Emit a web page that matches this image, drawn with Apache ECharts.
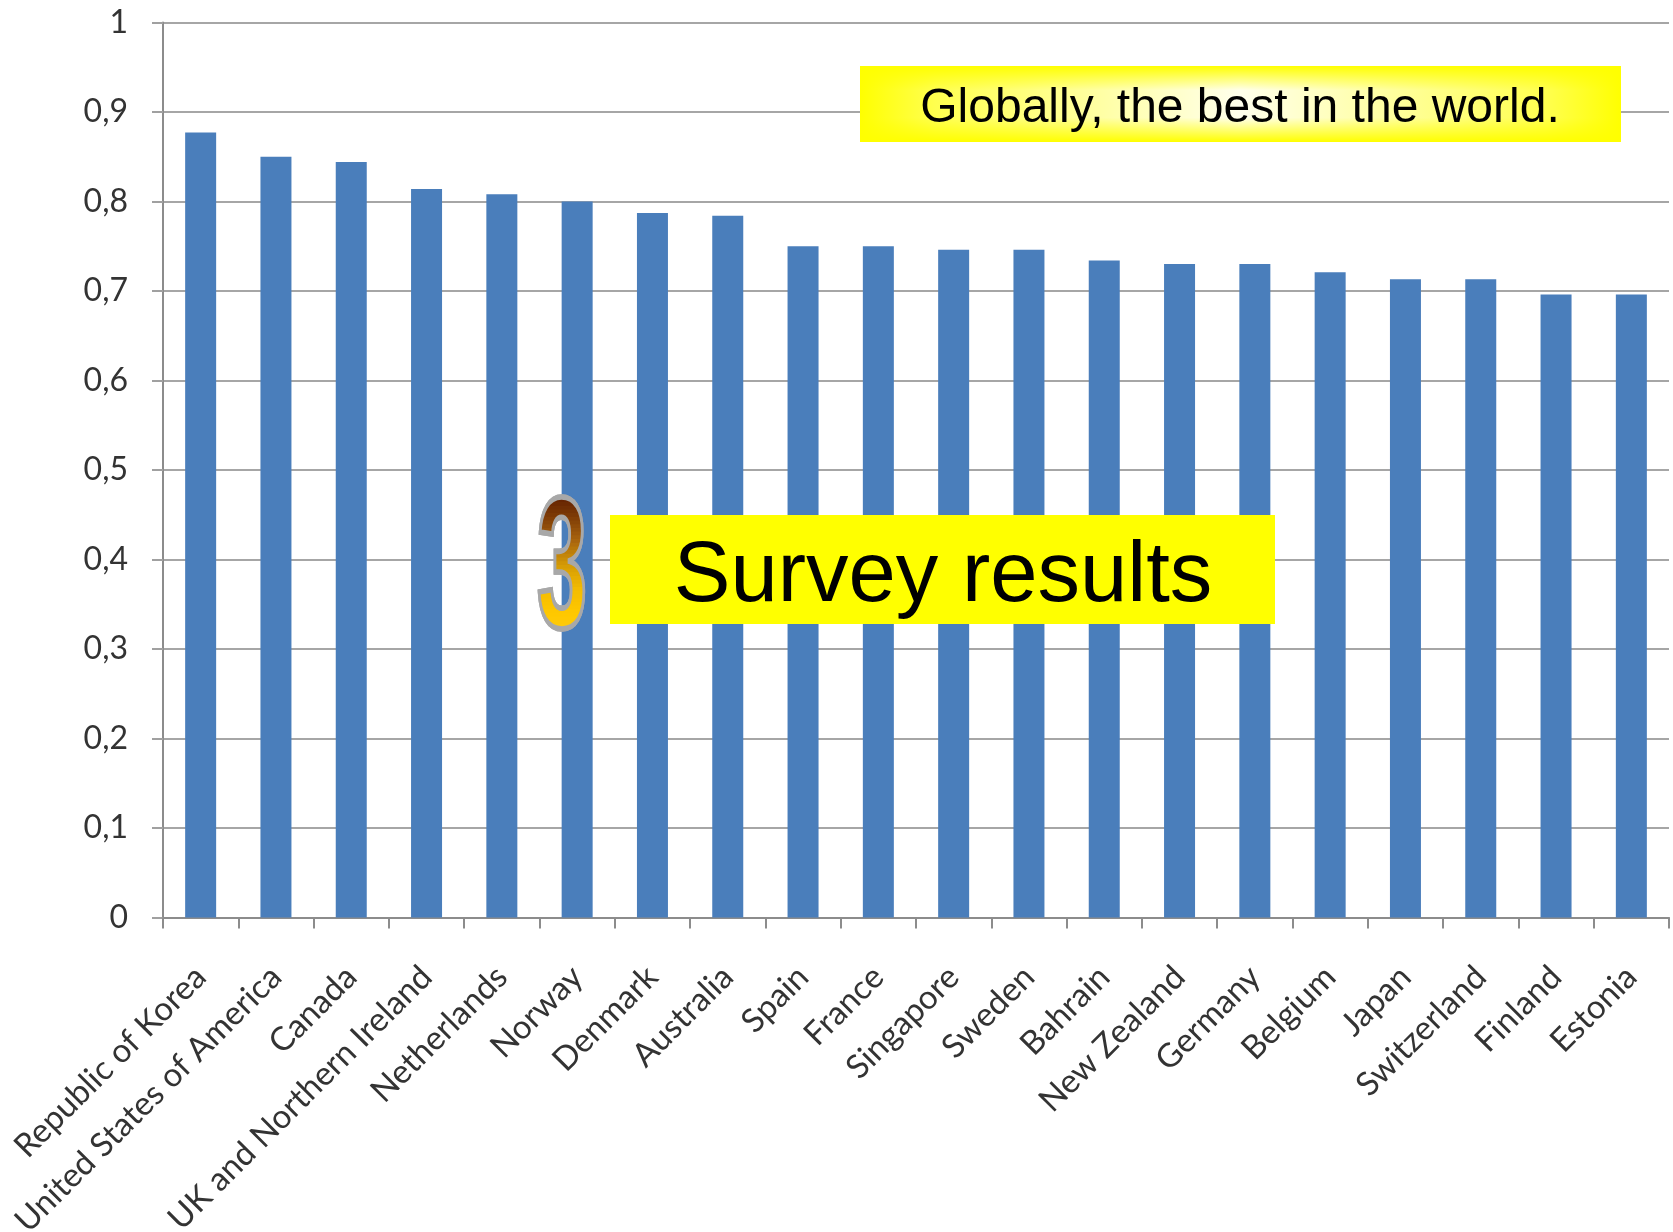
<!DOCTYPE html>
<html><head><meta charset="utf-8">
<script src="https://cdn.jsdelivr.net/npm/echarts@6/dist/echarts.min.js"></script>
<style>html,body{margin:0;padding:0;background:#fff}#c{width:1673px;height:1232px}</style>
</head><body><div id="c"></div>
<script>
const categories = ['Republic of Korea','United States of America','Canada','UK and Northern Ireland','Netherlands','Norway','Denmark','Australia','Spain','France','Singapore','Sweden','Bahrain','New Zealand','Germany','Belgium','Japan','Switzerland','Finland','Estonia'];
const values = [0.877,0.850,0.844,0.814,0.808,0.800,0.787,0.784,0.750,0.750,0.746,0.746,0.734,0.730,0.730,0.721,0.713,0.713,0.696,0.696];
const headline = 'Globally, the best in the world.';
const sectionTitle = 'Survey results';
const sectionNumber = '3';

const chart = echarts.init(document.getElementById('c'), null, {renderer: 'canvas'});
const labelFont = 'Lato';
chart.setOption({
  backgroundColor: '#ffffff',
  animation: false,
  grid: {left: 163, right: 4, top: 22.4, bottom: 314.4, outerBoundsMode: 'none'},
  xAxis: {
    type: 'category', data: categories,
    axisLine: {show: true, lineStyle: {color: '#8c8c8c', width: 2}},
    axisTick: {show: true, length: 11, alignWithLabel: false, lineStyle: {color: '#8c8c8c', width: 2}},
    axisLabel: {interval: 0, rotate: 45, margin: 54, fontFamily: labelFont, fontSize: 33, color: '#333333'}
  },
  yAxis: {
    type: 'value', min: 0, max: 1, interval: 0.1,
    axisLine: {show: true, lineStyle: {color: '#8c8c8c', width: 2}},
    axisTick: {show: true, length: 11, lineStyle: {color: '#a0a0a0', width: 2}},
    splitLine: {show: true, lineStyle: {color: '#a6a6a6', width: 2}},
    axisLabel: {margin: 35, fontFamily: labelFont, fontSize: 32, color: '#333333',
      formatter: v => String(+v.toFixed(1)).replace('.', ',')}
  },
  series: [{
    type: 'bar', data: values, barWidth: 31,
    itemStyle: {color: '#4a7ebb'}
  }],
  graphic: [
    {type: 'rect', z: 100, shape: {x: 860, y: 66, width: 761, height: 76},
     style: {fill: {type: 'linear', x: 0, y: 0, x2: 1, y2: 0,
       colorStops: [{offset: 0, color: '#ffff00'}, {offset: 0.1, color: '#ffff50'}, {offset: 0.5, color: '#ffffec'}, {offset: 0.9, color: '#ffff50'}, {offset: 1, color: '#ffff00'}]}}},
    {type: 'rect', z: 100, shape: {x: 860, y: 66, width: 761, height: 76},
     style: {fill: {type: 'linear', x: 0, y: 0, x2: 0, y2: 1,
       colorStops: [{offset: 0, color: 'rgba(255,255,0,1)'}, {offset: 0.32, color: 'rgba(255,255,0,0)'}, {offset: 0.68, color: 'rgba(255,255,0,0)'}, {offset: 1, color: 'rgba(255,255,0,1)'}]}}},
    {type: 'text', z: 101, x: 1240, y: 109,
     style: {text: headline, font: '48px "Liberation Sans"', fill: '#000', textAlign: 'center', textVerticalAlign: 'middle'}},
    {type: 'rect', z: 100, shape: {x: 610, y: 515, width: 665, height: 109}, style: {fill: '#ffff00'}},
    {type: 'text', z: 101, x: 943, y: 578,
     style: {text: sectionTitle, font: '85px "Liberation Sans"', fill: '#000', textAlign: 'center', textVerticalAlign: 'middle'}}
  ]
});

// WordArt-style section number: gradient built from clipped horizontal bands
const zr = chart.getZr();
const G = echarts.graphic;
const numPos = {x: 562, y: 576, scaleX: 0.9, scaleY: 1.85};
const numFont = 'bold 100px "Liberation Sans"';
const numBase = {text: sectionNumber, font: numFont, align: 'center', verticalAlign: 'middle'};
zr.add(new G.Text(Object.assign({z: 200, z2: 0}, numPos, {style: Object.assign({}, numBase, {
  fill: '#ffc800', stroke: '#a8a8a8', lineWidth: 3,
  shadowColor: 'rgba(105,75,40,0.85)', shadowBlur: 0, shadowOffsetX: 6, shadowOffsetY: 7})})));
const gradColors = ['#5a1800', '#7c3a06', '#a8640e', '#d49a06', '#f4bc00', '#ffc800', '#ffcc10'];
const bandTop = -46, bandBottom = 34, nBands = 40;
const bandH = (bandBottom - bandTop) / nBands;
for (let i = 0; i < nBands; i++) {
  const t = (i + 0.5) / nBands;
  const band = new G.Text(Object.assign({z: 200, z2: 1 + i}, numPos, {style: Object.assign({}, numBase, {
    fill: echarts.color.lerp(t, gradColors)})}));
  band.setClipPath(new G.Rect({shape: {x: -60, y: bandTop + i * bandH, width: 120, height: bandH + 0.6}}));
  zr.add(band);
}
zr.add(new G.Text(Object.assign({z: 200, z2: 100}, numPos, {style: Object.assign({}, numBase, {
  fill: null, stroke: '#a8a8a8', lineWidth: 3})})));
</script></body></html>
